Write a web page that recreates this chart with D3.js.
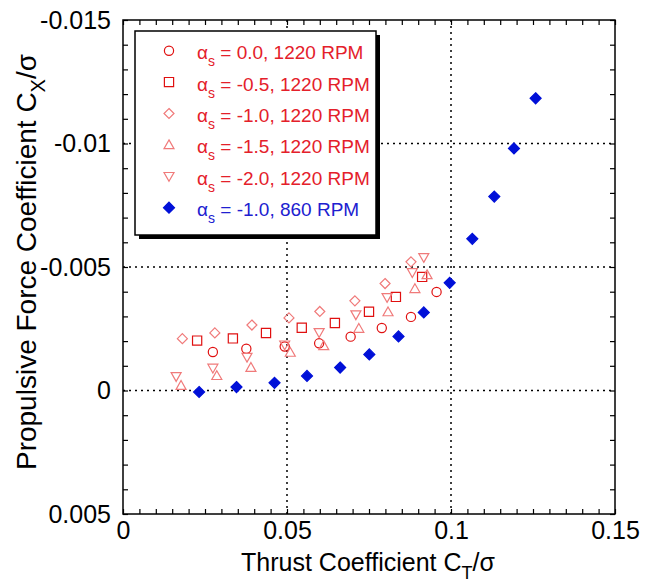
<!DOCTYPE html>
<html>
<head>
<meta charset="utf-8">
<script src="https://cdn.jsdelivr.net/npm/d3@7"></script>
<style>
  body { margin: 0; background: #fff; }
  svg text { font-family: "Liberation Sans", Arial, sans-serif; }
</style>
</head>
<body>
<div id="chart"></div>
<script>
// thrust coefficient CT/sigma (x) and propulsive force CX/sigma (y)
var ct_a00 = [0.0274, 0.0376, 0.0493, 0.0598, 0.0694, 0.0789, 0.0878, 0.0956],
    cx_a00 = [-0.00156, -0.00169, -0.00178, -0.00191, -0.00218, -0.00253, -0.00298, -0.00399];

var ct_a05 = [0.0226, 0.0335, 0.0436, 0.0545, 0.0646, 0.0750, 0.0832, 0.0912],
    cx_a05 = [-0.00202, -0.00211, -0.00233, -0.00254, -0.00273, -0.00319, -0.00379, -0.00460];

var ct_a10 = [0.0181, 0.0280, 0.0393, 0.0506, 0.0600, 0.0707, 0.0799, 0.0878],
    cx_a10 = [-0.00210, -0.00233, -0.00265, -0.00294, -0.00320, -0.00363, -0.00433, -0.00521];

var ct_a15 = [0.0177, 0.0286, 0.0390, 0.0510, 0.0612, 0.0719, 0.0808, 0.0890, 0.0927],
    cx_a15 = [-0.00020, -0.00060, -0.00093, -0.00154, -0.00181, -0.00251, -0.00318, -0.00412, -0.00468];

var ct_a20 = [0.0162, 0.0274, 0.0378, 0.0493, 0.0598, 0.0710, 0.0805, 0.0882, 0.0917],
    cx_a20 = [-0.00057, -0.00091, -0.00135, -0.00185, -0.00235, -0.00307, -0.00377, -0.00478, -0.00539];

var ct_860 = [0.0232, 0.0346, 0.0462, 0.0561, 0.0662, 0.0751, 0.0840, 0.0917, 0.0996, 0.1065, 0.1132, 0.1192, 0.1258],
    cx_860 = [0.00006, -0.00014, -0.00031, -0.00059, -0.00093, -0.00146, -0.00219, -0.00316, -0.00436, -0.00614, -0.00785, -0.00980, -0.01183];

var legendAlpha = ["0.0", "-0.5", "-1.0", "-1.5", "-2.0", "-1.0"],
    legendRpm = ["1220 RPM", "1220 RPM", "1220 RPM", "1220 RPM", "1220 RPM", "860 RPM"];

var xMajor = [0, 0.05, 0.1, 0.15],
    yMajor = [-0.015, -0.01, -0.005, 0, 0.005];

(function() {

    var series = [
        {ct: ct_a00, cx: cx_a00, shape: "circle",   color: "#e01010", fill: "none"},
        {ct: ct_a05, cx: cx_a05, shape: "square",   color: "#e01010", fill: "none"},
        {ct: ct_a10, cx: cx_a10, shape: "diamond",  color: "#f07a7a", fill: "none"},
        {ct: ct_a15, cx: cx_a15, shape: "triUp",    color: "#f07a7a", fill: "none"},
        {ct: ct_a20, cx: cx_a20, shape: "triDown",  color: "#f07a7a", fill: "none"},
        {ct: ct_860, cx: cx_860, shape: "bdiamond", color: "#0010d8", fill: "#0010d8"}
    ];
    var textColors = ["#e4202a", "#e4202a", "#e4202a", "#e4202a", "#e4202a", "#2020d0"];

    var width = 653,
        height = 584,
        pl = 123, pr = 615, pt = 20, pb = 514;

    var x = d3.scaleLinear().domain([0, 0.15]).range([pl, pr]);
    var y = d3.scaleLinear().domain([-0.015, 0.005]).range([pt, pb]);

    var svg = d3.select("#chart").append("svg")
        .attr("width", width)
        .attr("height", height);

    function markerPath(shape) {
        switch (shape) {
            case "circle": return "M4.6,0A4.6,4.6 0 1,1 -4.6,0A4.6,4.6 0 1,1 4.6,0Z";
            case "square": return "M-4.6,-4.6H4.6V4.6H-4.6Z";
            case "diamond": return "M0,-5L5,0L0,5L-5,0Z";
            case "triUp": return "M0,-5L5,3.8H-5Z";
            case "triDown": return "M0,5L5,-3.8H-5Z";
            case "bdiamond": return "M0,-5.5L5.5,0L0,5.5L-5.5,0Z";
        }
    }

    // grid lines
    var xGrid = [0.05, 0.1], yGrid = [-0.01, -0.005, 0];
    svg.append("g").selectAll("line").data(xGrid).enter().append("line")
        .attr("x1", function(d) { return x(d); }).attr("x2", function(d) { return x(d); })
        .attr("y1", pt).attr("y2", pb)
        .attr("stroke", "#000").attr("stroke-width", 1.5).attr("stroke-dasharray", "2,4");
    svg.append("g").selectAll("line").data(yGrid).enter().append("line")
        .attr("y1", function(d) { return y(d); }).attr("y2", function(d) { return y(d); })
        .attr("x1", pl).attr("x2", pr)
        .attr("stroke", "#000").attr("stroke-width", 1.5).attr("stroke-dasharray", "2,4");

    // axes with inward ticks
    var xTicks = d3.range(0, 31).map(function(i) { return +(i * 0.005).toFixed(3); });
    var yTicks = d3.range(0, 21).map(function(i) { return +(-0.015 + i * 0.001).toFixed(3); });
    function isMajor(list, d) { return list.some(function(m) { return Math.abs(m - d) < 1e-9; }); }

    var gx = svg.append("g").attr("transform", "translate(0," + pb + ")")
        .call(d3.axisBottom(x).tickValues(xTicks).tickSize(-5).tickPadding(7)
            .tickFormat(function(d) { return isMajor(xMajor, d) ? String(d) : ""; }));
    var gy = svg.append("g").attr("transform", "translate(" + pl + ",0)")
        .call(d3.axisLeft(y).tickValues(yTicks).tickSize(-5).tickPadding(12)
            .tickFormat(function(d) { return isMajor(yMajor, d) ? String(d) : ""; }));
    var gt = svg.append("g").attr("transform", "translate(0," + pt + ")")
        .call(d3.axisTop(x).tickValues(xTicks).tickSize(-5).tickFormat(""));
    var gr = svg.append("g").attr("transform", "translate(" + pr + ",0)")
        .call(d3.axisRight(y).tickValues(yTicks).tickSize(-5).tickFormat(""));

    [gx, gy, gt, gr].forEach(function(g) {
        g.select(".domain").remove();
        g.selectAll("line").attr("stroke", "#000").attr("stroke-width", 1.2);
        g.selectAll("text").attr("fill", "#000").style("font-size", "25px")
            .style("font-family", "'Liberation Sans', Arial, sans-serif");
    });

    // frame
    svg.append("rect")
        .attr("x", pl).attr("y", pt)
        .attr("width", pr - pl).attr("height", pb - pt)
        .attr("fill", "none").attr("stroke", "#000").attr("stroke-width", 1.5);

    // data markers
    series.forEach(function(s) {
        var pts = s.ct.map(function(c, i) { return [c, s.cx[i]]; });
        svg.append("g").selectAll("path").data(pts).enter().append("path")
            .attr("d", markerPath(s.shape))
            .attr("transform", function(d) { return "translate(" + x(d[0]) + "," + y(d[1]) + ")"; })
            .attr("fill", s.fill)
            .attr("stroke", s.color)
            .attr("stroke-width", 1.2);
    });

    // legend
    var lg = svg.append("g");
    lg.append("rect").attr("x", 139).attr("y", 35).attr("width", 241).attr("height", 204).attr("fill", "#000");
    lg.append("rect").attr("x", 135).attr("y", 31).attr("width", 241).attr("height", 204)
        .attr("fill", "#fff").attr("stroke", "#000").attr("stroke-width", 1.5);

    series.forEach(function(s, i) {
        var cy = 50.7 + i * 31.4;
        lg.append("path")
            .attr("d", markerPath(s.shape))
            .attr("transform", "translate(169," + cy + ")")
            .attr("fill", s.fill).attr("stroke", s.color).attr("stroke-width", 1.2);
        var t = lg.append("text")
            .attr("x", 197).attr("y", cy + 8.5)
            .attr("fill", textColors[i])
            .style("font-size", "19px");
        t.append("tspan").text("\u03b1");
        t.append("tspan").attr("dy", 7).style("font-size", "14px").text("s");
        t.append("tspan").attr("dy", -7).text(" = " + legendAlpha[i] + ", " + legendRpm[i]);
    });

    // axis titles
    var xt = svg.append("text")
        .attr("x", 368).attr("y", 571)
        .attr("text-anchor", "middle")
        .style("font-size", "25px");
    xt.append("tspan").text("Thrust Coefficient C");
    xt.append("tspan").attr("dy", 8).style("font-size", "18px").text("T");
    xt.append("tspan").attr("dy", -8).text("/\u03c3");

    var yt = svg.append("text")
        .attr("transform", "translate(36,262) rotate(-90)")
        .attr("text-anchor", "middle")
        .style("font-size", "28px");
    yt.append("tspan").text("Propulsive Force Coefficient C");
    yt.append("tspan").attr("dy", 9).style("font-size", "20px").text("X");
    yt.append("tspan").attr("dy", -9).text("/\u03c3");

})();
</script>
</body>
</html>
